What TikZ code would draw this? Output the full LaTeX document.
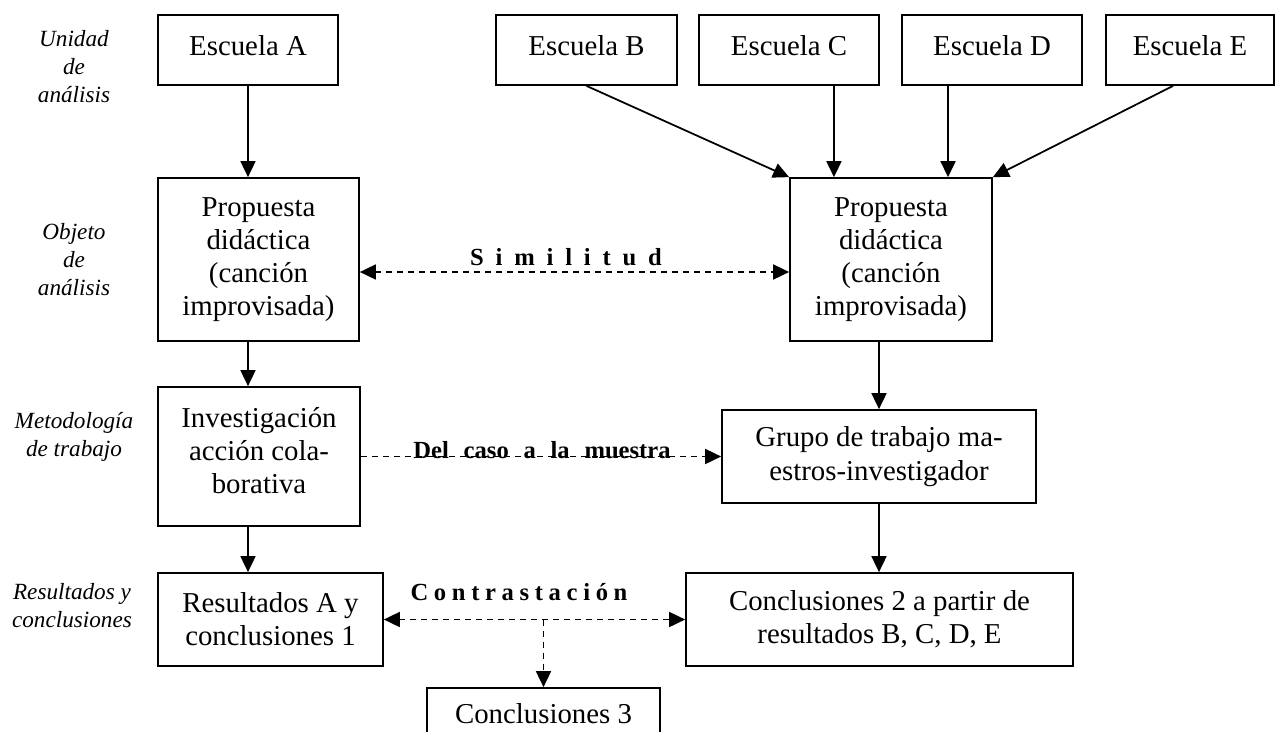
\documentclass[tikz,border=0pt]{standalone}
\usepackage{fontspec}
\setmainfont{Liberation Serif}
\newfontfamily\simfont[LetterSpace=48]{Liberation Serif}
\newfontfamily\confont[LetterSpace=23]{Liberation Serif}
\usetikzlibrary{arrows.meta, calc}
\tikzstyle{caja} = [rectangle, align=center, inner sep=0pt, draw=black, line width=1pt,
font=\fontsize{16.4}{18.9}\selectfont]
\tikzstyle{escuela} = [caja, minimum width=3.6cm, minimum height=1.4cm,
text depth=0.2cm]
\tikzstyle{nivel} = [align=center, font=\fontsize{13.2}{15.9}\selectfont\itshape]
\tikzstyle{rotulo} = [font=\fontsize{14}{16}\selectfont\bfseries]
\tikzstyle{arrow} = [line width=1pt,->,>={Triangle[length=0.32cm,width=0.3cm]}]
\tikzstyle{dasharrow} = [arrow, dash pattern=on 0.12cm off 0.1cm]

\begin{document}
\begin{tikzpicture}[x=0.02cm, y=-0.02cm]
\useasboundingbox (0,0) rectangle (1275,731);
%Levels on the left
\node (nivA) [nivel] at (74,67) {Unidad\\de\\análisis};
\node (nivB) [nivel] at (74,260) {Objeto\\de\\análisis};
\node (nivC) [nivel] at (74,437) {Metodología\\de trabajo};
\node (nivD) [nivel] at (72,606) {Resultados y\\conclusiones};
%Calling the blocks
\node (escA) [escuela] at (248,50) {Escuela A};
\node (escB) [escuela, minimum width=3.62cm] at (586.5,50) {Escuela B};
\node (escC) [escuela] at (789,50) {Escuela C};
\node (escD) [escuela] at (992,50) {Escuela D};
\node (escE) [escuela, minimum width=3.36cm] at (1190,50) {Escuela E};
\node (propA) [caja, minimum width=4.02cm, minimum height=3.26cm] at (258.5,259.5)
{Propuesta\\didáctica\\(canción\\improvisada)};
\node (propB) [caja, minimum width=4.04cm, minimum height=3.26cm] at (891,259.5)
{Propuesta\\didáctica\\(canción\\improvisada)};
\node (inv) [caja, minimum width=4.04cm, minimum height=2.78cm, text depth=0.24cm]
at (259,456.5) {Investigación\\acción cola-\\borativa};
\node (grupo) [caja, minimum width=6.28cm, minimum height=1.86cm] at (879,456.5)
{Grupo de trabajo ma-\\estros-investigador};
\node (resA) [caja, minimum width=4.5cm, minimum height=1.86cm] at (270.5,619.5)
{Resultados A y\\conclusiones 1};
\node (conc2) [caja, minimum width=7.74cm, minimum height=1.86cm] at (879.5,619.5)
{Conclusiones 2 a partir de\\resultados B, C, D, E};
\node (conc3) [caja, minimum width=4.66cm, minimum height=1.24cm, text depth=0.22cm]
at (543.5,719) {Conclusiones 3};
%Labels of the dashed links
\node (simil) [rotulo] at (566,257) {\simfont Similitud};
\node (caso) [rotulo, font={\fontsize{14}{16}\selectfont\bfseries\spaceskip=0.6em\relax},
anchor=base] at (542,458) {Del caso a la muestra};
\node (contra) [rotulo] at (519,592) {\confont Contrastación};
\coordinate (inC) at ($(propB.north west)!0.22!(propB.north east)$);
\coordinate (inD) at ($(propB.north west)!0.78!(propB.north east)$);
\coordinate (outE) at ($(escE.south west)!0.4!(escE.south east)$);
\coordinate (cruce) at (conc3.north |- resA.east);
% Drawing the arrows between blocks
\draw[arrow] (escA.south) -- (escA.south |- propA.north);
\draw[arrow] (escB.south) -- (propB.north west);
\draw[arrow] (escC.south -| inC) -- (inC);
\draw[arrow] (escD.south -| inD) -- (inD);
\draw[arrow] (outE) -- (propB.north east);
\draw[arrow] (propA.south -| escA) -- (inv.north -| escA);
\draw[arrow] (propB.south -| grupo) -- (grupo.north);
\draw[arrow] (inv.south -| escA) -- (resA.north -| escA);
\draw[arrow] (grupo.south) -- (grupo.south |- conc2.north);
\draw[dasharrow,<->] ([yshift=-0.25cm]propA.east) -- ([yshift=-0.25cm]propB.west);
\draw[dasharrow] (inv.east) -- (grupo.west);
\draw[dasharrow,<->] (resA.east) -- (conc2.west);
\draw[dasharrow] (cruce) -- (conc3.north);
\end{tikzpicture}
\end{document}
